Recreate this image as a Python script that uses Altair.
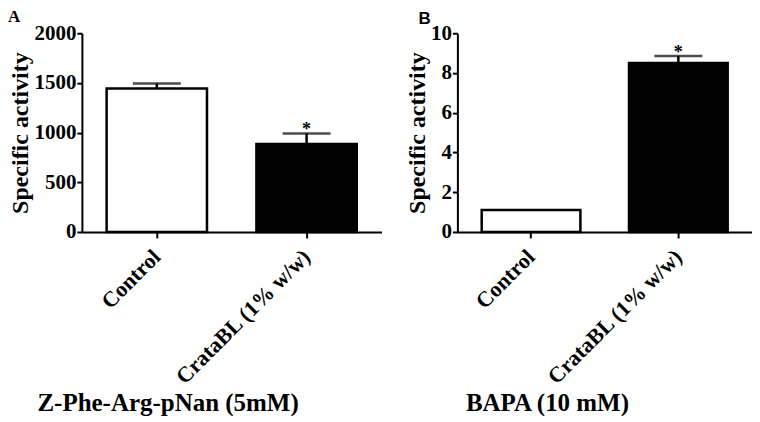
import altair as alt
import pandas as pd

groups = ["Control", "CrataBL (1% w/w)"]
fills = ["white", "black"]

a_values = [1445, 885]
a_errors = [50, 107]
a_sig = ["", "*"]
a_ticks = [0, 500, 1000, 1500, 2000]

b_values = [1.1, 8.5]
b_errors = [0, 0.35]
b_sig = ["", "*"]
b_ticks = [0, 2, 4, 6, 8, 10]

SERIF = "Liberation Serif"
SANS = "Liberation Sans"


def make_df(values, errors, sig):
    return pd.DataFrame({
        "group": groups,
        "value": values,
        "err": errors,
        "top": [v + e for v, e in zip(values, errors)],
        "sig": sig,
    })


def panel(df, ymax, yticks, width, height, xtitle, title_x, title_y,
          letter, letter_font, letter_x, letter_y):
    x_scale = alt.Scale(paddingInner=0.33, paddingOuter=0.165)
    x = alt.X(
        "group:N",
        sort=groups,
        scale=x_scale,
        axis=alt.Axis(
            title=xtitle,
            labelAngle=-45,
            labelAlign="right",
            labelBaseline="middle",
            labelFont=SERIF,
            labelFontWeight="bold",
            labelFontSize=22,
            labelColor="black",
            labelPadding=15,
            labelLimit=400,
            tickSize=6,
            tickWidth=2,
            tickColor="black",
            domainWidth=2,
            domainColor="black",
            titleFont=SERIF,
            titleFontWeight="bold",
            titleFontSize=25,
            titleColor="black",
            titleAnchor="start",
            titleAlign="left",
            titleBaseline="alphabetic",
            titleX=title_x,
            titleY=title_y,
        ),
    )
    y_scale = alt.Scale(domain=[0, ymax], nice=False)
    y_axis = alt.Axis(
        title="Specific activity",
        values=yticks,
        tickCount=len(yticks),
        format="d",
        labelOverlap=False,
        grid=False,
        labelFont=SERIF,
        labelFontWeight="bold",
        labelFontSize=21,
        labelColor="black",
        labelPadding=1,
        tickSize=5,
        tickWidth=2,
        tickColor="black",
        domainWidth=2,
        domainColor="black",
        titleFont=SERIF,
        titleFontWeight="bold",
        titleFontSize=24,
        titleColor="black",
        titlePadding=1,
    )
    xs = alt.X("group:N", sort=groups)
    base = alt.Chart(df)
    bars = base.mark_bar(stroke="black", strokeWidth=2.5).encode(
        x=x,
        y=alt.Y("value:Q", scale=y_scale, axis=y_axis),
        fill=alt.Fill("group:N", scale=alt.Scale(domain=groups, range=fills), legend=None),
    )
    err = base.transform_filter("datum.err > 0")
    stem = err.mark_rule(color="black", strokeWidth=2.5).encode(
        x=xs, y=alt.Y("value:Q"), y2="top:Q"
    )
    cap = err.mark_tick(color="black", thickness=2.5, size=48, orient="horizontal").encode(
        x=xs, y=alt.Y("top:Q")
    )
    star = base.mark_text(
        font=SERIF, fontWeight="bold", fontSize=18, baseline="alphabetic", dy=2, color="black"
    ).encode(x=xs, y=alt.Y("top:Q"), text="sig:N")
    lab = alt.Chart(pd.DataFrame({"t": [letter]})).mark_text(
        font=letter_font, fontWeight="bold", fontSize=17, baseline="alphabetic", align="left",
        color="black",
    ).encode(text="t:N", x=alt.value(letter_x), y=alt.value(letter_y))
    return alt.layer(bars, stem, cap, star, lab).properties(width=width, height=height)


pA = panel(make_df(a_values, a_errors, a_sig), 2000, a_ticks, 300, 199,
           "Z-Phe-Arg-pNan (5mM)", -45, 179, "A", SERIF, -74, -11)
pB = panel(make_df(b_values, b_errors, b_sig), 10, b_ticks, 295, 199,
           "BAPA (10 mM)", 8, 179, "B", SANS, -39, -9)

chart = alt.hconcat(pA, pB, spacing=24).properties(
    padding={"left": 0, "top": 0, "right": 0, "bottom": 0},
    background="white",
).configure_view(stroke=None)

chart.save("out.html", embed_options={"renderer": "svg", "actions": False})
